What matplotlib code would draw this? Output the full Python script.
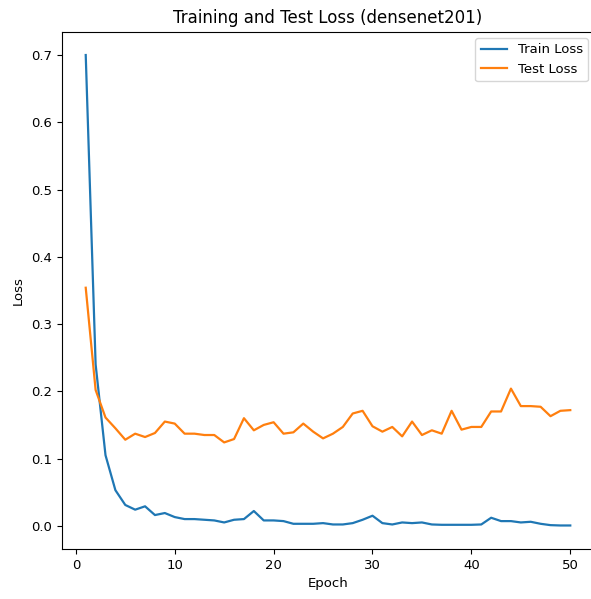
import numpy as np
import matplotlib
matplotlib.use("Agg")
import matplotlib.pyplot as plt

# Loss values
epochs = list(range(1, 51))
train_loss = [
    0.700, 0.240, 0.105, 0.053, 0.031, 0.024, 0.029, 0.016, 0.019, 0.013,
    0.010, 0.010, 0.009, 0.008, 0.005, 0.009, 0.010, 0.022, 0.008, 0.008,
    0.007, 0.003, 0.003, 0.003, 0.004, 0.002, 0.002, 0.004, 0.009, 0.015,
    0.004, 0.002, 0.005, 0.004, 0.005, 0.002, 0.0015, 0.0015, 0.0015, 0.0015,
    0.002, 0.012, 0.007, 0.007, 0.005, 0.006, 0.003, 0.001, 0.0005, 0.0005,
]
test_loss = [
    0.354, 0.202, 0.161, 0.145, 0.128, 0.137, 0.132, 0.138, 0.155, 0.152,
    0.137, 0.137, 0.135, 0.135, 0.124, 0.129, 0.160, 0.142, 0.150, 0.154,
    0.137, 0.139, 0.152, 0.140, 0.130, 0.137, 0.147, 0.167, 0.171, 0.148,
    0.140, 0.147, 0.133, 0.155, 0.135, 0.142, 0.137, 0.171, 0.143, 0.147,
    0.147, 0.170, 0.170, 0.204, 0.178, 0.178, 0.177, 0.163, 0.171, 0.172,
]

W, H = 591, 599
fig = plt.figure(figsize=(W / 100, H / 100), dpi=100)
# the reference is cropped a little on the right, so the axes run past the edge
ax = fig.add_axes([61.5 / W, 1 - 549 / H, 533 / W, 517.5 / H])

ax.plot(epochs, train_loss, label="Train Loss", color="#1f77b4", linewidth=1.6)
ax.plot(epochs, test_loss, label="Test Loss", color="#ff7f0e", linewidth=1.6)

ax.set_title("Training and Test Loss (densenet201)", fontsize=12)
ax.set_xlabel("Epoch", fontsize=9.5)
ax.set_ylabel("Loss", fontsize=9.5)
ax.tick_params(labelsize=9.5)
ax.set_xticks([0, 10, 20, 30, 40, 50])
ax.set_yticks(np.arange(0, 0.71, 0.1))
ax.legend(loc="upper right", fontsize=9.5)

fig.savefig("out.png", dpi=100)
